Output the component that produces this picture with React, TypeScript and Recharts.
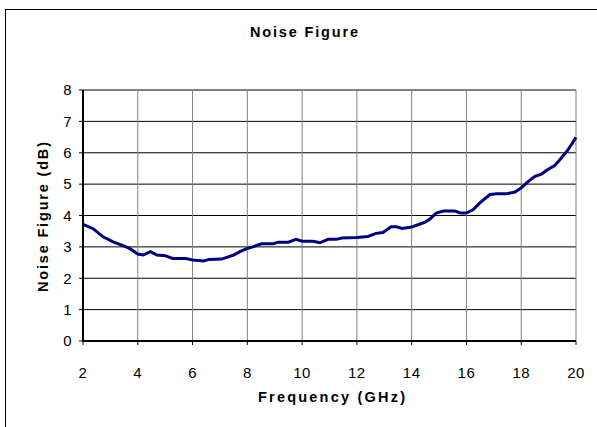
import React from 'react';
import { LineChart, Line, XAxis, YAxis, CartesianGrid, ReferenceLine } from 'recharts';

const frequencyGHz = [
  2.0, 2.37, 2.73, 3.1, 3.46, 3.7, 4.0, 4.2, 4.46, 4.7, 5.0, 5.27, 5.76, 6.0, 6.4, 6.6,
  7.06, 7.5, 7.73, 8.0, 8.2, 8.52, 8.95, 9.13, 9.5, 9.78, 10.0, 10.4, 10.65, 10.95, 11.25,
  11.45, 12.0, 12.4, 12.7, 12.95, 13.25, 13.45, 13.65, 14.0, 14.18, 14.49, 14.67, 14.9,
  15.16, 15.58, 15.77, 16.0, 16.25, 16.49, 16.86, 17.1, 17.44, 17.77, 18.0, 18.26, 18.5,
  18.74, 18.93, 19.22, 19.41, 19.66, 19.84, 20.0,
];

const noiseFigureDb = [
  3.72, 3.58, 3.32, 3.16, 3.04, 2.95, 2.77, 2.74, 2.85, 2.74, 2.72, 2.63, 2.63, 2.58, 2.55, 2.6,
  2.61, 2.74, 2.85, 2.95, 3.0, 3.1, 3.1, 3.15, 3.15, 3.24, 3.18, 3.18, 3.13, 3.24, 3.24,
  3.28, 3.3, 3.33, 3.43, 3.46, 3.64, 3.64, 3.59, 3.63, 3.69, 3.79, 3.89, 4.08,
  4.14, 4.14, 4.08, 4.08, 4.19, 4.4, 4.67, 4.69, 4.69, 4.75, 4.88, 5.09, 5.25,
  5.32, 5.44, 5.59, 5.78, 6.04, 6.27, 6.49,
];

const xTicks = [2, 4, 6, 8, 10, 12, 14, 16, 18, 20];
const yTicks = [0, 1, 2, 3, 4, 5, 6, 7, 8];
const yMinorTicks = [0.5, 1.5, 2.5, 3.5, 4.5, 5.5, 6.5, 7.5];

const chartTitle = 'Noise Figure';
const xLabel = 'Frequency (GHz)';
const yLabel = 'Noise Figure (dB)';

const data = frequencyGHz.map((f, i) => ({ f, nf: noiseFigureDb[i] }));

const FONT = '"Liberation Sans", Arial, sans-serif';
const tickStyle = { fill: '#000', fontSize: 15, fontFamily: FONT, letterSpacing: 0.5 };

export default function App() {
  return (
    <div style={{ position: 'absolute', left: 0, top: 0, width: 597, height: 427, overflow: 'hidden', background: '#fff' }}>
      <LineChart
        width={597}
        height={427}
        data={data}
        margin={{ top: 90, right: 21, bottom: 46, left: 23 }}
      >
        <CartesianGrid horizontal={true} vertical={false} stroke="#000" strokeWidth={1} />
        <CartesianGrid horizontal={false} vertical={true} stroke="#808080" strokeWidth={1} />
        <ReferenceLine y={8} stroke="#808080" strokeWidth={1} />
        <XAxis
          dataKey="f"
          type="number"
          domain={[2, 20]}
          ticks={xTicks}
          interval={0}
          height={40}
          tickSize={4}
          tickMargin={22}
          axisLine={{ stroke: '#000', strokeWidth: 2 }}
          tickLine={{ stroke: '#000' }}
          tick={tickStyle}
        />
        <YAxis
          type="number"
          domain={[0, 8]}
          ticks={yTicks}
          interval={0}
          width={60}
          tickSize={4}
          tickMargin={7}
          axisLine={{ stroke: '#000', strokeWidth: 2 }}
          tickLine={{ stroke: '#000' }}
          tick={tickStyle}
        />
        <YAxis
          yAxisId="minor"
          type="number"
          domain={[0, 8]}
          allowDataOverflow
          ticks={yMinorTicks}
          interval={0}
          mirror
          width={0}
          tickSize={4}
          axisLine={false}
          tickLine={{ stroke: '#000' }}
          tick={false}
        />
        <Line
          type="linear"
          dataKey="nf"
          stroke="#000080"
          strokeWidth={3}
          dot={false}
          isAnimationActive={false}
        />
      </LineChart>
      <svg
        width={597}
        height={427}
        style={{ position: 'absolute', left: 0, top: 0, pointerEvents: 'none' }}
      >
        <rect x={5.5} y={9.5} width={620} height={440} fill="none" stroke="#000" strokeWidth={1} />
        <text x={304} y={37} textAnchor="middle" fontFamily={FONT} fontWeight="bold" fontSize={14.5} textLength={108} lengthAdjust="spacing" fill="#000">
          {chartTitle}
        </text>
        <text x={331.5} y={401.5} textAnchor="middle" fontFamily={FONT} fontWeight="bold" fontSize={14.5} textLength={147} lengthAdjust="spacing" fill="#000">
          {xLabel}
        </text>
        <text x={0} y={0} transform="translate(48,217) rotate(-90)" textAnchor="middle" fontFamily={FONT} fontWeight="bold" fontSize={14.5} textLength={150} lengthAdjust="spacing" fill="#000">
          {yLabel}
        </text>
      </svg>
    </div>
  );
}
